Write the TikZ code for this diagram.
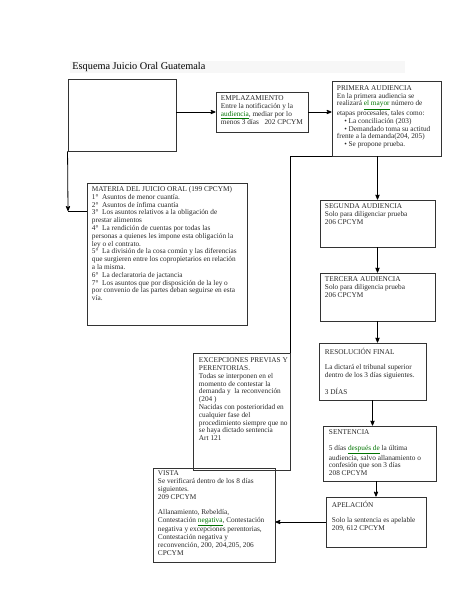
\documentclass[tikz,border=0pt]{standalone}
\usepackage{fontspec}
\setmainfont{Liberation Serif}
\usepackage{xcolor}
\usetikzlibrary{arrows}
\newcommand{\gmark}[1]{\textcolor{green!45!black}{\underline{#1}}}

\begin{document}
\begin{tikzpicture}[x=1pt,y=-1pt,>=stealth',thick,
		box node/.style={rectangle,draw=black!80,line width=0.9pt,inner sep=0pt},
		text node/.style={anchor=north west,inner sep=0pt,align=left,text=black!85,
			font=\fontsize{7.3}{7.8}\selectfont}]

			\useasboundingbox (0,0) rectangle (474,613);

			% Title
			\fill[black!3] (70,61) rectangle (405,73);
			\node[anchor=west,inner sep=0pt,font=\fontsize{10.3}{12}\selectfont] (title) at (72,67) {Esquema Juicio Oral Guatemala};

			% Boxes
			\node[box node,minimum width=108,minimum height=72] (start) at (122,115) {};
			\node[box node,minimum width=92,minimum height=40] (empl) at (262,112) {};
			\node[box node,minimum width=109,minimum height=75] (prim) at (386.5,118.5) {};
			\node[box node,minimum width=160,minimum height=142] (mat) at (167,254) {};
			\node[box node,minimum width=115,minimum height=47] (seg) at (377.5,223.5) {};
			\node[box node,minimum width=115,minimum height=48] (ter) at (377.5,297) {};
			\node[box node,minimum width=107,minimum height=57] (res) at (372.5,371.5) {};
			\node[box node,minimum width=97,minimum height=117] (exc) at (241.5,411.5) {};
			\node[box node,minimum width=113,minimum height=55] (sent) at (379.5,453.5) {};
			\node[box node,minimum width=100,minimum height=50] (apel) at (376,522) {};
			\node[box node,minimum width=122,minimum height=94] (vista) at (214,515) {};

			% Texts
			\node[text node] (empltext) at ([shift={(5,4)}]empl.north west) {EMPLAZAMIENTO\\
				Entre la notificación y la\\
				\gmark{audiencia}, mediar por lo\\
				menos 3 días \ \ 202 CPCYM};
			\node[text node] (primtext) at ([shift={(5,4.5)}]prim.north west) {PRIMERA AUDIENCIA\\
				En la primera audiencia se\\
				realizará \gmark{el mayor} número de\\
				etapas procesales, tales como:\\
				\quad\textbullet\ La conciliación (203)\\
				\quad\textbullet\ Demandado toma su actitud\\
				frente a la demanda(204, 205)\\
				\quad\textbullet\ Se propone prueba.};
			\node[text node] (mattext) at ([shift={(5,3.5)}]mat.north west) {MATERIA DEL JUICIO ORAL (199 CPCYM)\\
				1° \ Asuntos de menor cuantía.\\
				2° \ Asuntos de ínfima cuantía\\
				3° \ Los asuntos relativos a la obligación de\\
				prestar alimentos\\
				4° \ La rendición de cuentas por todas las\\
				personas a quienes les impone esta obligación la\\
				ley o el contrato.\\
				5° \ La división de la cosa común y las diferencias\\
				que surgieren entre los copropietarios en relación\\
				a la misma.\\
				6° \ La declaratoria de jactancia\\
				7° \ Los asuntos que por disposición de la ley o\\
				por convenio de las partes deban seguirse en esta\\
				vía.};
			\node[text node] (segtext) at ([shift={(5,4)}]seg.north west) {SEGUNDA AUDIENCIA\\
				Solo para diligenciar prueba\\
				206 CPCYM};
			\node[text node] (tertext) at ([shift={(5,4)}]ter.north west) {TERCERA AUDIENCIA\\
				Solo para diligencia prueba\\
				206 CPCYM};
			\node[text node] (restext) at ([shift={(6,5)}]res.north west) {RESOLUCIÓN FINAL\\[7.8pt]
				La dictará el tribunal superior\\
				dentro de los 3 días siguientes.\\[7.8pt]
				3 DÍAS};
			\node[text node] (exctext) at ([shift={(6,5)}]exc.north west) {EXCEPCIONES PREVIAS Y\\
				PERENTORIAS.\\
				Todas se interponen en el\\
				momento de contestar la\\
				demanda y \ la reconvención\\
				(204 )\\
				Nacidas con posterioridad en\\
				cualquier fase del\\
				procedimiento siempre que no\\
				se haya dictado sentencia\\
				Art 121};
			\node[text node] (senttext) at ([shift={(6,4)}]sent.north west) {SENTENCIA\\[7.8pt]
				5 días \gmark{después de} la última\\
				audiencia, salvo allanamiento o\\
				confesión que son 3 días\\
				208 CPCYM};
			\node[text node] (apeltext) at ([shift={(6,4)}]apel.north west) {APELACIÓN\\[7.8pt]
				Solo la sentencia es apelable\\
				209, 612 CPCYM};
			\node[text node] (vistatext) at ([shift={(5,3)}]vista.north west) {VISTA\\
				Se verificará dentro de los 8 días\\
				siguientes.\\
				209 CPCYM\\[7.8pt]
				Allanamiento, Rebeldía,\\
				Contestación \gmark{negativa}, Contestación\\
				negativa y excepciones perentorias,\\
				Contestación negativa y\\
				reconvención, 200, 204,205, 206\\
				CPCYM};

			% Edges
			\coordinate (bend) at (68,211);
			\draw[->] (start.east |- empl.west) -- (empl.west);
			\draw[->] (empl.east) -- (empl.east -| prim.west);
			\draw[->] (start.south west) -- (bend);
			\draw (bend) -- (bend -| mat.west);
			\draw (prim.south west) -- (exc.north east |- prim.south west) -- (exc.north east);
			\draw[->] (seg.north |- prim.south) -- (seg.north);
			\draw[->] (seg) -- (ter);
			\draw[->] (ter.south) -- (ter.south |- res.north);
			\draw[->] (res.south) -- (res.south |- sent.north);
			\draw[->] (apel.north |- sent.south) -- (apel.north);
			\draw[->] (apel.west) -- (apel.west -| vista.east);
		\end{tikzpicture}
\end{document}
